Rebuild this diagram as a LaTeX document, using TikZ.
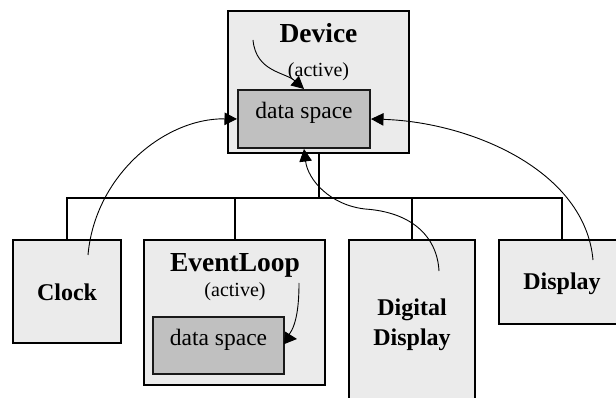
\documentclass[tikz,border=0pt]{standalone}
\usepackage{fontspec}
\setmainfont{Liberation Serif}
\usetikzlibrary{arrows.meta}
\definecolor{boxfill}{HTML}{EBEBEB}
\definecolor{datafill}{HTML}{C0C0C0}
\begin{document}
\begin{tikzpicture}[x=1pt,y=-1pt,
  objbox/.style={draw=black, line width=2pt, fill=boxfill, inner sep=0pt},
  databox/.style={draw=black!90, line width=2pt, fill=datafill, inner sep=0pt},
  bus/.style={line width=2pt},
  flow/.style={line width=0.9pt, -{Triangle[length=12.5pt,width=12.5pt]}},
  title/.style={anchor=base, inner sep=0pt, font=\fontsize{27.5}{30}\selectfont\bfseries},
  objname/.style={anchor=base, inner sep=0pt, font=\fontsize{24}{29}\selectfont\bfseries},
  note/.style={anchor=base, inner sep=0pt, font=\fontsize{20}{24}\selectfont},
  datatext/.style={anchor=base, inner sep=0pt, font=\fontsize{23.5}{28}\selectfont}]
\useasboundingbox (0,0) rectangle (616,398);
\clip (0,0) rectangle (616,398);

% Device object with its data space
\node[objbox, minimum width=181pt, minimum height=142pt] (dev) at (318.5,82) {};
\node[databox, minimum width=132pt, minimum height=58pt] (devdata) at (304,119) {};
\node[title] (devname) at (318.5,43) {Device};
\node[note] (devact) at (318.5,77) {(active)};
\node[datatext] (devdatatxt) at (304,119) {data space};

% Clock
\node[objbox, minimum width=108pt, minimum height=103pt] (clock) at (67,291.5) {};
\node[objname] (clocktxt) at (67,300) {Clock};

% EventLoop object with its data space
\node[objbox, minimum width=181pt, minimum height=145pt] (evl) at (234.5,312.5) {};
\node[databox, minimum width=131pt, minimum height=57pt] (evldata) at (218.5,345.5) {};
\node[title] (evlname) at (235,272) {EventLoop};
\node[note] (evlact) at (235,297) {(active)};
\node[datatext] (evldatatxt) at (218.5,345) {data space};

% Digital Display
\node[objbox, minimum width=126pt, minimum height=180pt] (ddisp) at (412,330) {};
\node[objname] (ddispa) at (412,316) {Digital};
\node[objname] (ddispb) at (412,345) {Display};

% Display
\node[objbox, minimum width=126pt, minimum height=84pt] (disp) at (562,282) {};
\node[objname] (disptxt) at (562,290) {Display};

% containment bus
\coordinate (busy) at (0,198);
\draw[bus] (clock.north) |- (disp.north |- busy) -- (disp.north);
\draw[bus] (dev.south) -- (dev.south |- busy);
\draw[bus] (evl.north) -- (evl.north |- busy);
\draw[bus] (ddisp.north) -- (ddisp.north |- busy);

% data flows
\coordinate (devsrc) at (253,40);
\draw[flow] (devsrc) .. controls (256,72) and (285,72) .. (devdata.north);
\coordinate (clocksrc) at (88,255);
\draw[flow] (clocksrc) .. controls (95,175) and (165,118) .. (devdata.west);
\coordinate (dispsrc) at (593,260);
\draw[flow] (dispsrc) .. controls (585,170) and (470,122) .. (devdata.east);
\coordinate (ddsrc) at (439,271);
\draw[flow] (ddsrc) .. controls (437,235) and (410,212) .. (365,209)
  .. controls (330,205) and (308,180) .. (devdata.south);
\coordinate (evlsrc) at (299,283);
\coordinate (evltip) at (297,339);
\draw[flow] (evlsrc) .. controls (299,312) and (295,330) .. (286,338) -- (evltip);
\end{tikzpicture}
\end{document}
